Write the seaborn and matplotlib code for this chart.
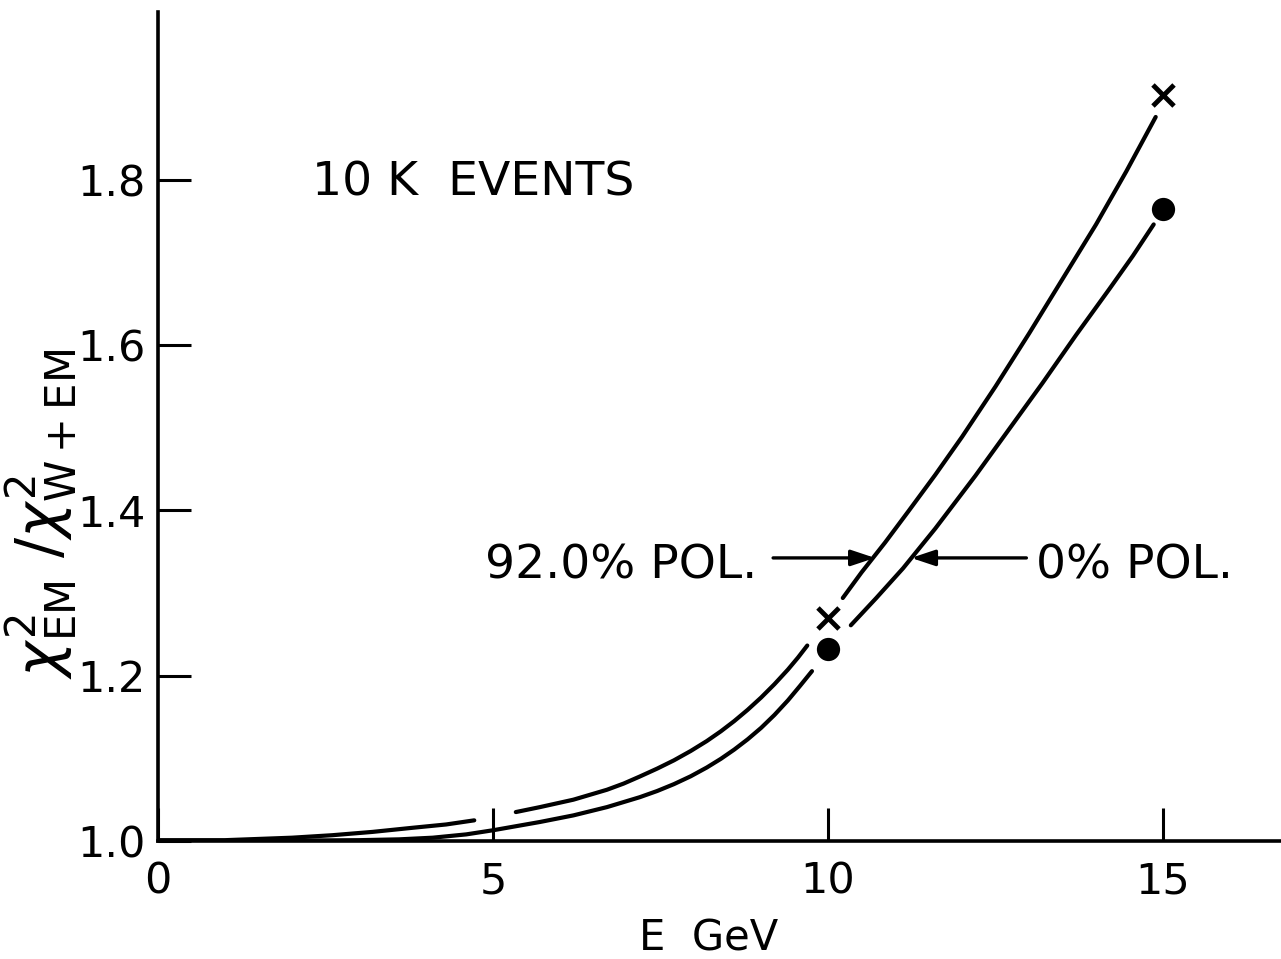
import numpy as np
import pandas as pd
import matplotlib
matplotlib.use("Agg")
import matplotlib.pyplot as plt
import seaborn as sns

# ---------------- data ----------------
# 92.0% polarisation curve (upper), drawn in hand-lettered segments
pol92_seg1_E = [0.0, 1.0, 2.0, 2.6, 3.2, 3.8, 4.3, 4.72]
pol92_seg1_v = [1.001, 1.001, 1.004, 1.007, 1.011, 1.016, 1.020, 1.025]
pol92_seg2_E = [5.34, 5.7, 6.2, 6.7, 6.95, 7.19, 7.45, 7.7, 7.95, 8.19, 8.4, 8.6,
                8.8, 9.0, 9.2, 9.4, 9.55, 9.69]
pol92_seg2_v = [1.035, 1.041, 1.050, 1.062, 1.0695, 1.078, 1.0876, 1.0976, 1.1089, 1.1209, 1.1327, 1.1451,
                1.1587, 1.1735, 1.1897, 1.2073, 1.2218, 1.2365]
pol92_seg3_E = [10.22, 10.5, 10.85, 11.2, 11.6, 12.0, 12.5, 13.0, 13.5, 14.0, 14.45, 14.89]
pol92_seg3_v = [1.294, 1.325, 1.361, 1.399, 1.443, 1.489, 1.550, 1.614, 1.680, 1.746, 1.810, 1.876]

# 0% polarisation curve (lower)
pol0_seg1_E = [0.0, 1.0, 2.0, 3.0, 3.6, 4.1, 4.6, 5.0, 5.7, 6.2, 6.7, 7.19, 7.45, 7.7,
               7.95, 8.19, 8.4, 8.6, 8.8, 9.0, 9.2, 9.4, 9.58, 9.76]
pol0_seg1_v = [1.000, 1.000, 1.0005, 1.001, 1.002, 1.004, 1.008, 1.013, 1.023, 1.031, 1.041, 1.053, 1.0605, 1.0688,
               1.0783, 1.0889, 1.0994, 1.1106, 1.1230, 1.1368, 1.1525, 1.1700, 1.1875, 1.2055]
pol0_seg2_E = [10.34, 10.72, 11.12, 11.6, 12.2, 12.7, 13.2, 13.7, 14.2, 14.55, 14.86]
pol0_seg2_v = [1.261, 1.294, 1.330, 1.378, 1.442, 1.498, 1.554, 1.612, 1.668, 1.708, 1.746]

# computed points
cross_E = [10.0, 15.0]
cross_v = [1.270, 1.903]
dot_E = [10.0, 15.0]
dot_v = [1.232, 1.765]

x_ticks = [0, 5, 10, 15]
x_ticklabels = ["0", "5", "10", "15"]
y_ticks = [1.0, 1.2, 1.4, 1.6, 1.8]
y_ticklabels = ["1.0", "1.2", "1.4", "1.6", "1.8"]

# ---------------- build table ----------------
rows = []
segs = [
    ("92", "a", pol92_seg1_E, pol92_seg1_v),
    ("92", "b", pol92_seg2_E, pol92_seg2_v),
    ("92", "c", pol92_seg3_E, pol92_seg3_v),
    ("0", "a", pol0_seg1_E, pol0_seg1_v),
    ("0", "b", pol0_seg2_E, pol0_seg2_v),
]
for series, seg, es, vs in segs:
    for e, v in zip(es, vs):
        rows.append({"series": series, "segment": series + seg, "E": e, "v": v})
df = pd.DataFrame(rows)

# ---------------- plot ----------------
sns.set_theme(style="ticks")
plt.rcParams["font.family"] = ["DejaVu Sans"]
plt.rcParams["mathtext.fontset"] = "dejavusans"

W, H = 1281, 959
fig = plt.figure(figsize=(W / 100, H / 100), dpi=100)
ax = fig.add_axes([158 / W, (H - 841) / H, (W - 158) / W, (841 - 12) / H])

sns.lineplot(data=df, x="E", y="v", hue="series", units="segment", estimator=None,
             palette={"92": "black", "0": "black"}, linewidth=3.0, legend=False,
             ax=ax, zorder=3)
sns.scatterplot(x=cross_E, y=cross_v, marker="x", s=230, color="black",
                linewidth=3.5, ax=ax, zorder=4)
sns.scatterplot(x=dot_E, y=dot_v, marker="o", s=280, color="black",
                edgecolor="black", linewidth=0, ax=ax, zorder=4)

ax.set_xlim(0.0, 16.76)
ax.set_ylim(1.0, 2.003)

ax.set_xticks(x_ticks)
ax.set_xticklabels(x_ticklabels)
ax.set_yticks(y_ticks)
ax.set_yticklabels(y_ticklabels)
ax.tick_params(axis="both", direction="in", length=24, width=2.2, color="black",
               labelsize=31, labelcolor="black")
ax.tick_params(axis="x", pad=14)
ax.tick_params(axis="y", pad=9)

for side in ["top", "right"]:
    ax.spines[side].set_visible(False)
for side in ["left", "bottom"]:
    ax.spines[side].set_linewidth(2.6)
    ax.spines[side].set_color("black")

ax.set_xlabel("E  GeV", fontsize=30, color="black")
ax.xaxis.set_label_coords(0.49, -0.092)
ax.xaxis.label.set_va("top")

ax.set_ylabel(r"$\chi^{2}_{\mathsf{EM}}\ /\chi^{2}_{\mathsf{W+EM}}$", fontsize=43, color="black")
ax.yaxis.set_label_coords(-0.0705, 0.395)

ax.text(2.3, 1.781, "10 K  EVENTS", fontsize=34, ha="left", va="baseline", color="black")
ax.text(8.95, 1.318, "92.0% POL.", fontsize=34, ha="right", va="baseline", color="black")
ax.text(13.1, 1.318, "0% POL.", fontsize=34, ha="left", va="baseline", color="black")

arrow_kw = dict(arrowstyle="-|>,head_length=1.2,head_width=0.4", color="black",
                lw=2.4, shrinkA=0, shrinkB=0)
ax.annotate("", xy=(10.70, 1.3425), xytext=(9.18, 1.3425), arrowprops=arrow_kw)
ax.annotate("", xy=(11.24, 1.3425), xytext=(12.96, 1.3425), arrowprops=arrow_kw)

fig.savefig("out.png", dpi=100, facecolor="white")
